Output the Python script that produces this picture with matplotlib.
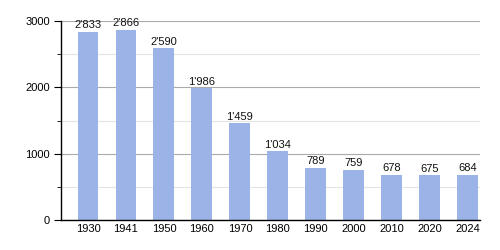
import matplotlib
matplotlib.use("Agg")
import matplotlib.pyplot as plt
from matplotlib.ticker import MultipleLocator


YEARS = ["1930", "1941", "1950", "1960", "1970", "1980", "1990", "2000", "2010", "2020", "2024"]
POPULATION = [2833, 2866, 2590, 1986, 1459, 1034, 789, 759, 678, 675, 684]
BAR_LABELS = ["2'833", "2'866", "2'590", "1'986", "1'459", "1'034", "789", "759", "678", "675", "684"]

BAR_COLOR = "#9bb3e6"


def main():
    plt.rcParams["font.family"] = ["Liberation Sans", "DejaVu Sans"]

    fig = plt.figure(figsize=(5, 2.5), dpi=100)
    ax = fig.add_axes([0.122, 0.12, 0.838, 0.796])

    x = list(range(len(YEARS)))
    ax.bar(x, POPULATION, width=0.55, color=BAR_COLOR, zorder=2)

    for xi, value, label in zip(x, POPULATION, BAR_LABELS):
        ax.text(xi, value + 25, label, ha="center", va="bottom", fontsize=8, color="#111111", zorder=3)

    ax.set_xlim(-0.71, len(YEARS) - 0.68)
    ax.set_ylim(0, 3000)
    ax.set_xticks(x)
    ax.set_xticklabels(YEARS)
    ax.tick_params(axis="x", length=0, labelsize=8, pad=3)

    ax.yaxis.set_major_locator(MultipleLocator(1000))
    ax.yaxis.set_minor_locator(MultipleLocator(500))
    ax.tick_params(axis="y", which="major", length=5, labelsize=8, pad=3)
    ax.tick_params(axis="y", which="minor", length=3)

    ax.grid(axis="y", which="major", color="#aaaaaa", linewidth=0.8, zorder=1)
    ax.grid(axis="y", which="minor", color="#e4e4e4", linewidth=0.8, zorder=1)
    ax.set_axisbelow(True)

    for side in ("top", "right"):
        ax.spines[side].set_visible(False)
    ax.spines["left"].set_linewidth(1.0)
    ax.spines["bottom"].set_linewidth(1.0)

    fig.savefig("out.png", dpi=100)


if __name__ == "__main__":
    main()
